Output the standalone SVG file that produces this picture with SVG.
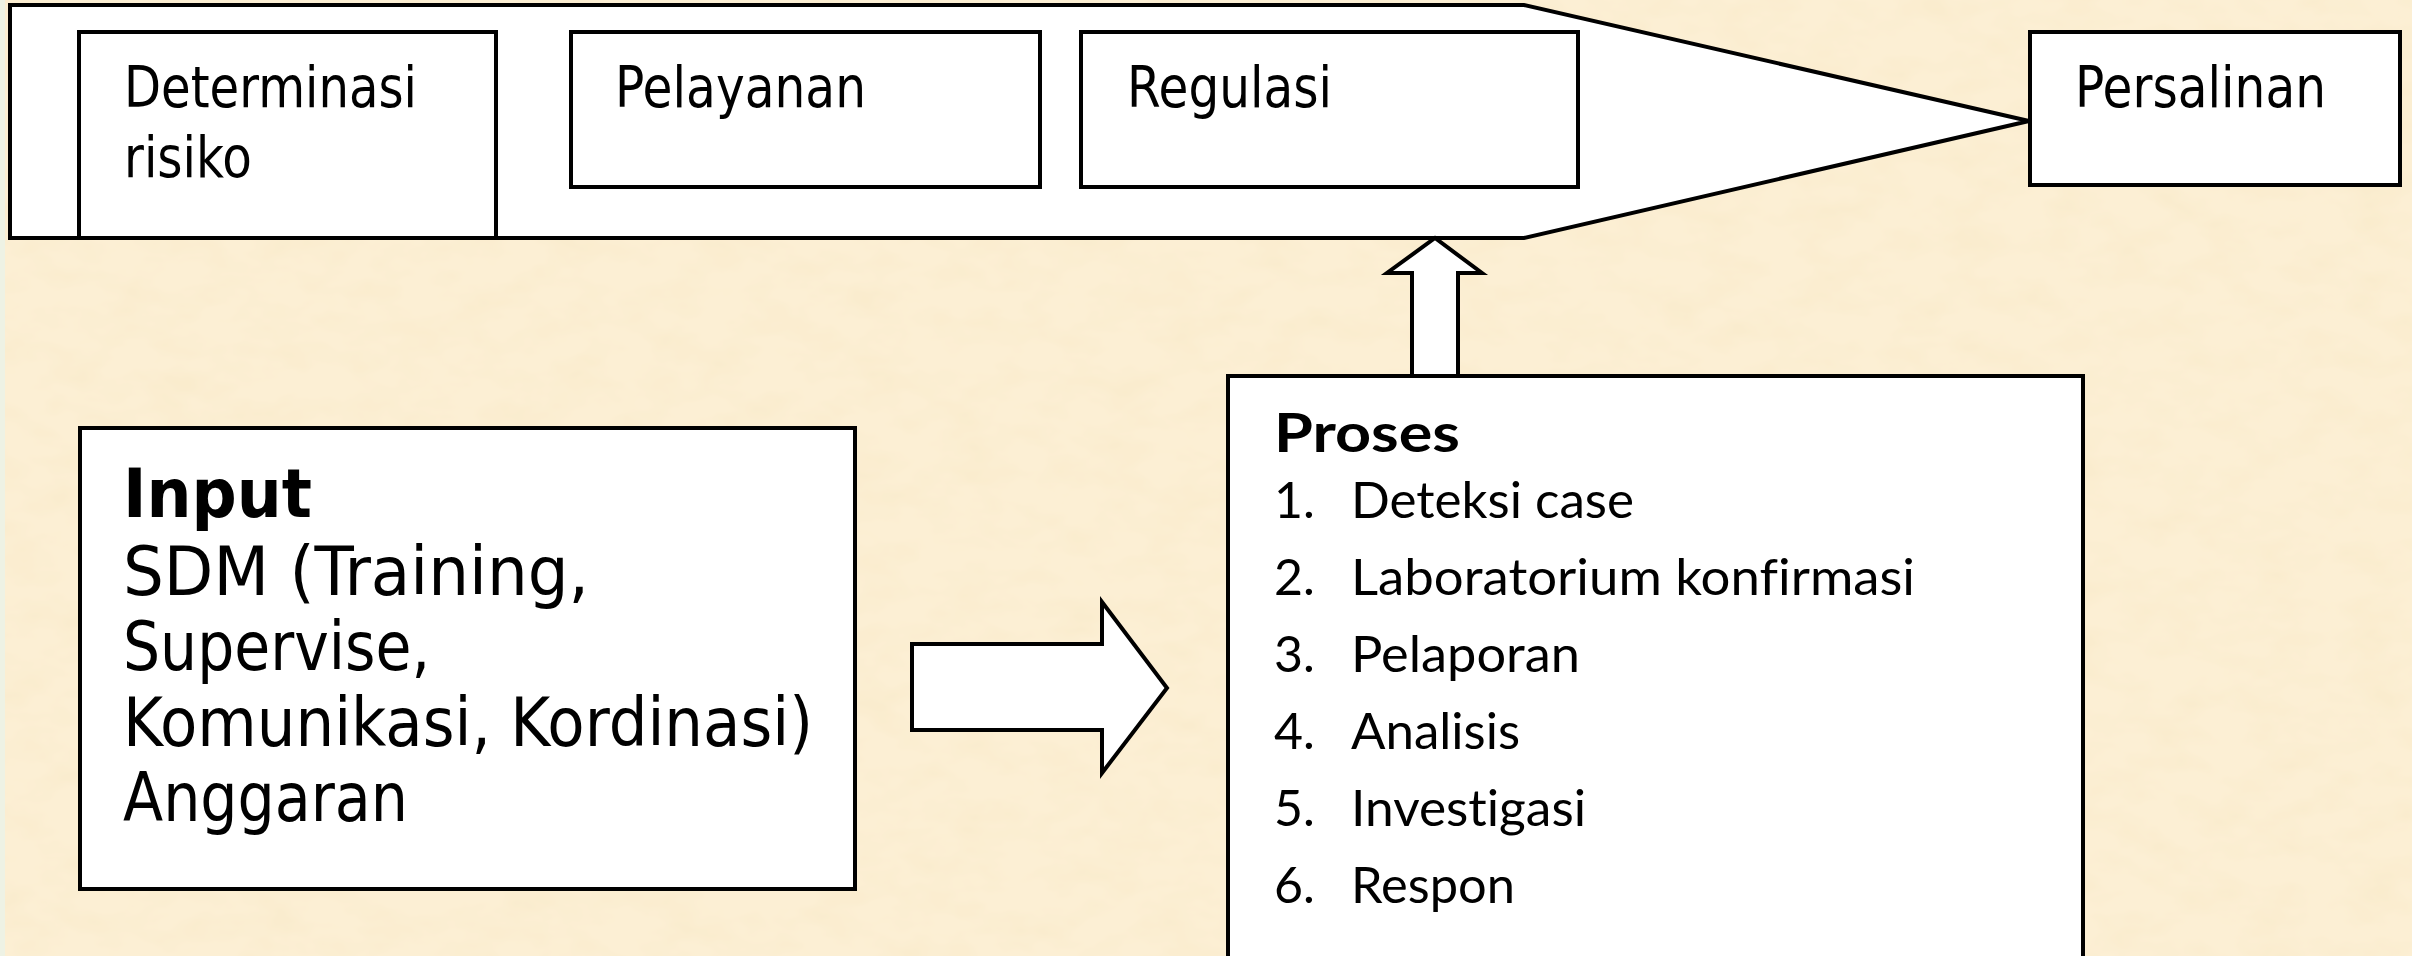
<svg xmlns="http://www.w3.org/2000/svg" width="2412" height="956" viewBox="0 0 2412 956">
  <defs>
    <filter id="parchment" x="0" y="0" width="2412" height="956" filterUnits="userSpaceOnUse">
      <feTurbulence type="fractalNoise" baseFrequency="0.02 0.035" numOctaves="3" seed="7" result="noise"/>
      <feColorMatrix in="noise" type="matrix" values="0 0 0 0 0.95  0 0 0 0 0.83  0 0 0 0 0.60  1.6 0 0 0 -0.62"/>
    </filter>
    <style>
      .box { fill: #ffffff; stroke: #000000; stroke-width: 4; stroke-linejoin: miter; }
      .arrow { fill: #ffffff; stroke: #000000; stroke-width: 4; stroke-linejoin: miter; }
      .lbl { font-family: "DejaVu Sans", "Liberation Sans", sans-serif; font-size: 57px; fill: #000000; }
      .inp { font-family: "DejaVu Sans", "Liberation Sans", sans-serif; font-size: 67px; fill: #000000; }
      .inp-b { font-family: "DejaVu Sans", "Liberation Sans", sans-serif; font-size: 67px; font-weight: bold; fill: #000000; }
      .prc { font-family: Lato, "Open Sans", sans-serif; font-size: 50px; fill: #000000; font-variant-ligatures: none; }
      .prc-b { font-family: Lato, "Open Sans", sans-serif; font-size: 54px; font-weight: bold; fill: #000000; font-variant-ligatures: none; }
    </style>
  </defs>

  <!-- parchment background -->
  <rect x="0" y="0" width="2412" height="956" fill="#fcefd4"/>
  <rect x="0" y="0" width="2412" height="956" filter="url(#parchment)"/>
  <rect x="0" y="0" width="5" height="956" fill="#eef2e4"/>

  <!-- banner pointing to the outcome -->
  <g id="banner">
    <path class="box" d="M10,5 L1524,5 L2029,121 L1524,238 L10,238 Z"/>
  </g>

  <g id="determinasi">
    <rect class="box" x="79" y="32" width="417" height="206"/>
    <text class="lbl" x="124" y="107" textLength="293" lengthAdjust="spacingAndGlyphs">Determinasi</text>
    <text class="lbl" x="124" y="177" textLength="128" lengthAdjust="spacingAndGlyphs">risiko</text>
  </g>

  <g id="pelayanan">
    <rect class="box" x="571" y="32" width="469" height="155"/>
    <text class="lbl" x="615" y="107" textLength="251" lengthAdjust="spacingAndGlyphs">Pelayanan</text>
  </g>

  <g id="regulasi">
    <rect class="box" x="1081" y="32" width="497" height="155"/>
    <text class="lbl" x="1127" y="107" textLength="205" lengthAdjust="spacingAndGlyphs">Regulasi</text>
  </g>

  <g id="persalinan">
    <rect class="box" x="2030" y="32" width="370" height="153"/>
    <text class="lbl" x="2075" y="107" textLength="251" lengthAdjust="spacingAndGlyphs">Persalinan</text>
  </g>

  <!-- block arrows -->
  <g id="connectors">
    <path class="arrow" d="M912,644 L1102,644 L1102,602 L1167,688 L1102,773 L1102,730 L912,730 Z"/>
    <path class="arrow" d="M1412,377 L1412,273 L1387,273 L1435,238 L1482,273 L1458,273 L1458,377"/>
  </g>

  <g id="input">
    <rect class="box" x="80" y="428" width="775" height="461"/>
    <text class="inp-b" x="123" y="517" textLength="189" lengthAdjust="spacingAndGlyphs">Input</text>
    <text class="inp" x="123" y="595" textLength="466" lengthAdjust="spacingAndGlyphs">SDM (Training,</text>
    <text class="inp" x="123" y="670" textLength="307" lengthAdjust="spacingAndGlyphs">Supervise,</text>
    <text class="inp" x="123" y="746" textLength="690" lengthAdjust="spacingAndGlyphs">Komunikasi, Kordinasi)</text>
    <text class="inp" x="123" y="821" textLength="285" lengthAdjust="spacingAndGlyphs">Anggaran</text>
  </g>

  <g id="proses">
    <rect class="box" x="1228" y="376" width="855" height="600"/>
    <text class="prc-b" x="1274" y="452" textLength="186" lengthAdjust="spacingAndGlyphs">Proses</text>
    <text class="prc" x="1274" y="518">1.</text>
    <text class="prc" x="1351" y="518" textLength="283" lengthAdjust="spacingAndGlyphs">Deteksi case</text>
    <text class="prc" x="1274" y="595">2.</text>
    <text class="prc" x="1351" y="595" textLength="564" lengthAdjust="spacingAndGlyphs">Laboratorium konfirmasi</text>
    <text class="prc" x="1274" y="672">3.</text>
    <text class="prc" x="1351" y="672" textLength="229" lengthAdjust="spacingAndGlyphs">Pelaporan</text>
    <text class="prc" x="1274" y="749">4.</text>
    <text class="prc" x="1351" y="749" textLength="169" lengthAdjust="spacingAndGlyphs">Analisis</text>
    <text class="prc" x="1274" y="826">5.</text>
    <text class="prc" x="1351" y="826" textLength="235" lengthAdjust="spacingAndGlyphs">Investigasi</text>
    <text class="prc" x="1274" y="903">6.</text>
    <text class="prc" x="1351" y="903" textLength="164" lengthAdjust="spacingAndGlyphs">Respon</text>
  </g>
</svg>
